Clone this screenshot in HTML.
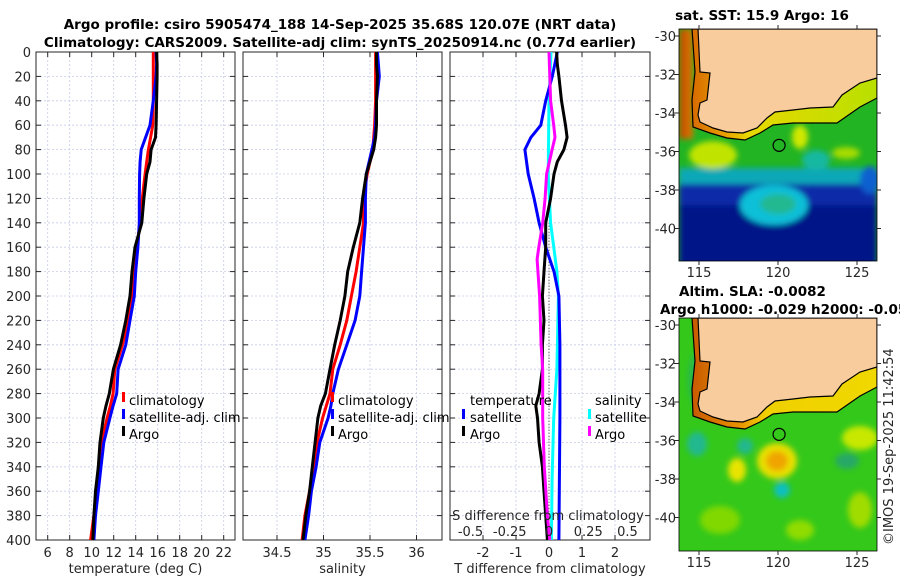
<!DOCTYPE html>
<html><head><meta charset="utf-8"><style>
html,body{margin:0;padding:0;background:#fff;}
svg{display:block;font-family:"DejaVu Sans","Liberation Sans",sans-serif;}
.tk{font-size:13px;fill:#262626;}
.tt{font-size:13.5px;font-weight:bold;fill:#000;}
.lg{font-size:13px;fill:#000;}
</style></head><body>
<svg id="fig" width="900" height="580" viewBox="0 0 900 580">
<defs>
<filter id="bl" x="-20%" y="-20%" width="140%" height="140%"><feGaussianBlur stdDeviation="3"/></filter>
<clipPath id="c1"><rect x="679" y="29" width="198" height="232"/></clipPath>
<clipPath id="c2"><rect x="679" y="318" width="198" height="233"/></clipPath>
<path id="land" d="M698,29 L700,72 L710,73 L707,100 L700,103 L698,115 L700,122 L713,128 L727,132 L743,133 L757,128 L767,118 L775,112 L793,110 L810,108 L833,107 L842,95 L860,83 L877,78 L877,29 Z"/>
<path id="shelf" d="M692,29 L695,72 L692,100 L693,127 L710,133 L727,138 L745,140 L760,133 L773,125 L793,123 L810,123 L837,123 L860,107 L877,98 L877,29 Z"/>
<linearGradient id="sg1" x1="0" x2="1" y1="0" y2="0"><stop offset="0" stop-color="#d86a00"/><stop offset="0.18" stop-color="#e8a000"/><stop offset="0.3" stop-color="#e8d800"/><stop offset="1" stop-color="#b8e000"/></linearGradient>
<linearGradient id="sg2" x1="0" x2="1" y1="0" y2="0"><stop offset="0" stop-color="#c85a00"/><stop offset="0.25" stop-color="#e89000"/><stop offset="0.4" stop-color="#f0d000"/><stop offset="1" stop-color="#f0d800"/></linearGradient>
<linearGradient id="wc1" x1="0" x2="1"><stop offset="0" stop-color="#b84a00"/><stop offset="1" stop-color="#e07800"/></linearGradient>
</defs>

<text class="tt" x="340" y="29" text-anchor="middle">Argo profile: csiro 5905474_188 14-Sep-2025 35.68S 120.07E (NRT data)</text>
<text class="tt" x="340" y="47" text-anchor="middle">Climatology: CARS2009. Satellite-adj clim: synTS_20250914.nc (0.77d earlier)</text>

<g id="p1"></g>
<g id="p2"></g>
<g id="p3"></g>

<g>
<rect x="122" y="392" width="3" height="10" fill="#f00"/><text class="lg" x="129" y="405">climatology</text>
<rect x="122" y="409" width="3" height="10" fill="#00f"/><text class="lg" x="129" y="422">satellite-adj. clim</text>
<rect x="122" y="426" width="3" height="10" fill="#000"/><text class="lg" x="129" y="439">Argo</text>
</g>
<g>
<rect x="331" y="392" width="3" height="10" fill="#f00"/><text class="lg" x="338" y="405">climatology</text>
<rect x="331" y="409" width="3" height="10" fill="#00f"/><text class="lg" x="338" y="422">satellite-adj. clim</text>
<rect x="331" y="426" width="3" height="10" fill="#000"/><text class="lg" x="338" y="439">Argo</text>
</g>
<g>
<text class="lg" x="470" y="405">temperature</text>
<rect x="462" y="409" width="3" height="10" fill="#00f"/><text class="lg" x="470" y="422">satellite</text>
<rect x="462" y="426" width="3" height="10" fill="#000"/><text class="lg" x="470" y="439">Argo</text>
<text class="lg" x="595" y="405">salinity</text>
<rect x="588" y="409" width="3" height="10" fill="#0ff"/><text class="lg" x="595" y="422">satellite</text>
<rect x="588" y="426" width="3" height="10" fill="#f0f"/><text class="lg" x="595" y="439">Argo</text>
</g>

<g>
<text class="tt" x="762" y="20" text-anchor="middle">sat. SST: 15.9 Argo: 16</text>
<g clip-path="url(#c1)">
<rect x="679" y="29" width="198" height="232" fill="#22b422"/>
<g filter="url(#bl)">
<rect x="679" y="178" width="198" height="90" fill="#0a2aa8"/>
<rect x="679" y="205" width="198" height="60" fill="#061888"/>
<rect x="679" y="168" width="198" height="16" fill="#10a8b8"/>
<ellipse cx="774" cy="205" rx="34" ry="20" fill="#10c0d8"/>
<ellipse cx="778" cy="204" rx="18" ry="10" fill="#20b890"/>
<ellipse cx="713" cy="155" rx="24" ry="14" fill="#c0e400"/>
<ellipse cx="800" cy="137" rx="8" ry="12" fill="#d0e800"/>
<ellipse cx="846" cy="153" rx="14" ry="6" fill="#a8dc00"/>
<ellipse cx="816" cy="160" rx="14" ry="10" fill="#18b8a0"/>
<ellipse cx="870" cy="180" rx="10" ry="14" fill="#1060d0"/>
<rect x="679" y="29" width="14" height="110" fill="url(#wc1)"/>
</g>
<use href="#shelf" fill="url(#sg1)"/>
<use href="#shelf" fill="none" stroke="#000" stroke-width="1.2"/>
<use href="#land" fill="#f9cc9e" stroke="#000" stroke-width="1.2"/>
</g>
<rect x="679" y="29" width="198" height="232" fill="none" stroke="#000" stroke-width="0.8"/>
<circle id="m1" r="6" fill="none" stroke="#000" stroke-width="1.2"/>
</g>

<g>
<text class="tt" x="679" y="296">Altim. SLA: -0.0082</text>
<text class="tt" x="660" y="314">Argo h1000: -0.029 h2000: -0.05</text>
<g clip-path="url(#c2)">
<rect x="679" y="318" width="198" height="233" fill="#34c81a"/>
<g filter="url(#bl)">
<ellipse cx="777" cy="461" rx="20" ry="18" fill="#e8e000"/>
<ellipse cx="777" cy="461" rx="11" ry="10" fill="#f0a400"/>
<ellipse cx="782" cy="490" rx="8" ry="8" fill="#10c0c0"/>
<ellipse cx="697" cy="444" rx="10" ry="12" fill="#20b890"/>
<ellipse cx="745" cy="446" rx="8" ry="8" fill="#20b890"/>
<ellipse cx="847" cy="461" rx="12" ry="8" fill="#28a868"/>
<ellipse cx="737" cy="470" rx="9" ry="12" fill="#e8e400"/>
<ellipse cx="860" cy="438" rx="18" ry="12" fill="#c8e800"/>
<ellipse cx="720" cy="520" rx="20" ry="14" fill="#80d800"/>
<ellipse cx="800" cy="530" rx="14" ry="10" fill="#90dc00"/>
<ellipse cx="860" cy="510" rx="12" ry="18" fill="#a0dc00"/>
<ellipse cx="700" cy="380" rx="12" ry="30" fill="#28b850"/>
</g>
<g transform="translate(0,289)">
<use href="#shelf" fill="url(#sg2)"/>
<use href="#shelf" fill="none" stroke="#000" stroke-width="1.2"/>
<use href="#land" fill="#f9cc9e" stroke="#000" stroke-width="1.2"/>
</g>
</g>
<rect x="679" y="318" width="198" height="233" fill="none" stroke="#000" stroke-width="0.8"/>
<circle id="m2" r="6" fill="none" stroke="#000" stroke-width="1.2"/>
</g>
<g id="maxes"></g>
<text class="tk" font-size="13" transform="translate(893,545) rotate(-90)">©IMOS 19-Sep-2025 11:42:54</text>
</svg>
<script>
const depths = [0,10,20,40,60,70,80,90,100,120,140,160,180,200,220,240,260,280,290,300,320,340,360,380,400];
const tempArgo = [15.9,15.95,15.95,15.9,15.85,15.8,15.4,15.3,15.0,14.75,14.55,13.94,13.66,13.48,13.1,12.63,11.97,11.6,11.3,11.05,10.75,10.6,10.35,10.2,10.1];
const tempClim = [15.6,15.6,15.6,15.6,15.55,15.35,15.15,15.0,14.85,14.6,14.4,14.1,13.8,13.7,13.33,12.8,12.1,11.95,11.7,11.4,10.9,10.65,10.45,10.2,9.9];
const tempSat = [15.85,15.9,15.85,15.6,15.3,14.9,14.5,14.4,14.35,14.33,14.33,14.2,14.0,13.87,13.48,13.1,12.4,12.27,11.95,11.65,11.1,10.85,10.6,10.35,10.2];
const salArgo = [35.57,35.57,35.58,35.57,35.57,35.56,35.54,35.5,35.46,35.42,35.39,35.32,35.26,35.23,35.18,35.12,35.07,35.02,34.97,34.94,34.91,34.88,34.85,34.81,34.78];
const salClim = [35.56,35.56,35.56,35.56,35.55,35.54,35.53,35.5,35.47,35.43,35.43,35.39,35.35,35.30,35.25,35.18,35.1,35.07,35.03,34.99,34.93,34.89,34.85,34.8,34.77];
const salSat = [35.58,35.59,35.6,35.57,35.56,35.55,35.52,35.49,35.46,35.45,35.45,35.43,35.41,35.39,35.34,35.25,35.16,35.1,35.08,35.05,34.96,34.92,34.87,34.84,34.8];
const dTArgoDepths = [0,10,20,40,60,70,80,90,100,120,140,160,180,200,220,240,260,280,290,300,320,340,360,380,400];
const dTArgo = [0.23,0.25,0.3,0.38,0.5,0.55,0.45,0.25,0.15,0.05,-0.1,-0.1,-0.15,-0.2,-0.15,-0.2,-0.2,-0.3,-0.4,-0.35,-0.3,-0.2,-0.15,-0.1,-0.05];
const dTSatDepths = [0,20,40,60,70,80,100,120,140,160,180,200,240,300,400];
const dTSat = [0.25,0.1,-0.1,-0.25,-0.55,-0.73,-0.63,-0.45,-0.3,-0.1,0.15,0.3,0.33,0.33,0.3];
const dSArgoDepths = [0,20,40,60,70,80,100,120,140,160,170,200,240,260,280,300,340,380,400];
const dSArgo = [0,0.005,0.01,0.03,0.038,0.02,-0.015,-0.025,-0.04,-0.065,-0.076,-0.06,-0.05,-0.04,-0.04,-0.04,-0.03,-0.01,0.005];
const dSSatDepths = [0,40,100,140,180,200,260,300,350,400];
const dSSat = [0.013,0.0,-0.005,0.01,0.05,0.06,0.05,0.03,0.02,0.015];
const depthTicks = [0,20,40,60,80,100,120,140,160,180,200,220,240,260,280,300,320,340,360,380,400];
const tempTicks = [6,8,10,12,14,16,18,20,22];
const salTicks = [34.5,35,35.5,36];
const dTTicks = [-2,-1,0,1,2];
const dSTicks = [-0.5,-0.25,0,0.25,0.5];
const dSTickLabels = ["-0.5","-0.25","0","0.25","0.5"];
const latTicks = [-30,-32,-34,-36,-38,-40];
const lonTicks = [115,120,125];
const argoLon = 120.07, argoLat = -35.68;

const NS = "http://www.w3.org/2000/svg";
const Y0 = 52, Y1 = 540;
const yD = d => Y0 + d * (Y1 - Y0) / 400;
function mk(tag, attrs, parent){const e=document.createElementNS(NS,tag);for(const k in attrs)e.setAttribute(k,attrs[k]);parent.appendChild(e);return e;}
const xT = v => 47.7 + (v - 6) * 11;
const xS = v => 277 + (v - 34.5) * 93;
const xdT = v => 549 + v * 33;
const xdS = v => 549 + v * 157;

function panel(g, x0, x1, vTicks, xf, labels, xlabel, showY){
  for (const d of depthTicks){
    const gl = mk('line',{x1:x0,x2:x1,y1:yD(d),y2:yD(d),stroke:'#c8cce8','stroke-width':0.8,'stroke-dasharray':'2,2'},g);
    
    
    mk('line',{x1:x0,x2:x0+5,y1:yD(d),y2:yD(d),stroke:'#262626'},g);
    mk('line',{x1:x1-5,x2:x1,y1:yD(d),y2:yD(d),stroke:'#262626'},g);
    if (showY){
      const t = mk('text',{x:x0-5,y:yD(d)+5,'text-anchor':'end',class:'tk'},g);
      t.textContent = d;
      
      
    }
  }
  vTicks.forEach((v,i)=>{
    const x = xf(v);
    const gl = mk('line',{x1:x,x2:x,y1:Y0,y2:Y1,stroke:'#c8cce8','stroke-width':0.8,'stroke-dasharray':'2,2'},g);
    
    
    mk('line',{x1:x,x2:x,y1:Y1,y2:Y1-5,stroke:'#262626'},g);
    mk('line',{x1:x,x2:x,y1:Y0,y2:Y0+5,stroke:'#262626'},g);
    const t = mk('text',{x:x,y:Y1+17,'text-anchor':'middle',class:'tk'},g);
    t.textContent = labels[i];
    
    
  });
  mk('rect',{x:x0,y:Y0,width:x1-x0,height:Y1-Y0,fill:'none',stroke:'#262626','stroke-width':1},g);
  const xl = mk('text',{x:(x0+x1)/2,y:Y1+33,'text-anchor':'middle',class:'tk','font-size':'14'},g);
  xl.textContent = xlabel;
  
  
}
function line(g, ds, vs, xf, color, name){
  const pts = ds.map((d,i)=>xf(vs[i]).toFixed(1)+','+yD(d).toFixed(1)).join(' ');
  const p = mk('polyline',{points:pts,fill:'none',stroke:color,'stroke-width':3,'stroke-linejoin':'round'},g);
  
  
}
const p1 = document.getElementById('p1'), p2 = document.getElementById('p2'), p3 = document.getElementById('p3');
panel(p1, 36, 235, tempTicks, xT, tempTicks.map(String), 'temperature (deg C)', true);
line(p1, depths, tempClim, xT, '#f00', 'temperature-climatology-line');
line(p1, depths, tempSat, xT, '#00f', 'temperature-satellite-line');
line(p1, depths, tempArgo, xT, '#000', 'temperature-argo-line');

panel(p2, 243, 442, salTicks, xS, salTicks.map(String), 'salinity', false);
line(p2, depths, salClim, xS, '#f00', 'salinity-climatology-line');
line(p2, depths, salSat, xS, '#00f', 'salinity-satellite-line');
line(p2, depths, salArgo, xS, '#000', 'salinity-argo-line');

panel(p3, 450, 650, dTTicks, xdT, dTTicks.map(String), 'T difference from climatology', false);
const zl = mk('line',{x1:xdT(0),x2:xdT(0),y1:yD(140),y2:Y1,stroke:'#333','stroke-width':1,'stroke-dasharray':'1,2'},p3);


line(p3, dSSatDepths, dSSat, xdS, '#0ff', 'salinity-satellite-diff-line');
line(p3, dTSatDepths, dTSat, xdT, '#00f', 'temperature-satellite-diff-line');
line(p3, dTArgoDepths, dTArgo, xdT, '#000', 'temperature-argo-diff-line');
line(p3, dSArgoDepths, dSArgo, xdS, '#f0f', 'salinity-argo-diff-line');
const st = mk('text',{x:548,y:520,'text-anchor':'middle',class:'tk','font-size':'14'},p3);
st.textContent = 'S difference from climatology';


dSTicks.forEach((v,i)=>{
  const t = mk('text',{x:xdS(v),y:536,'text-anchor':'middle',class:'tk'},p3);
  t.textContent = dSTickLabels[i];
  
  
});

const lonX = lon => 699 + (lon - 115) * 15.8;
const latY = (lat, off) => 36 + off + (-30 - lat) * 19.25;
const ma = document.getElementById('maxes');
[[0,29,261],[289,318,551]].forEach(([off,top,bot])=>{
  latTicks.forEach(lat=>{
    const y = latY(lat,off);
    mk('line',{x1:674,x2:679,y1:y,y2:y,stroke:'#262626'},ma);
    mk('line',{x1:877,x2:881,y1:y,y2:y,stroke:'#262626'},ma);
    const t = mk('text',{x:676,y:y+5,'text-anchor':'end',class:'tk'},ma);
    t.textContent = lat;
    
    
  });
  lonTicks.forEach(lon=>{
    const x = lonX(lon);
    mk('line',{x1:x,x2:x,y1:bot,y2:bot+4,stroke:'#262626'},ma);
    mk('line',{x1:x,x2:x,y1:top-4,y2:top,stroke:'#262626'},ma);
    const t = mk('text',{x:x,y:bot+16,'text-anchor':'middle',class:'tk','font-size':'14'},ma);
    t.textContent = lon;
    
    
  });
});
const m1 = document.getElementById('m1'), m2 = document.getElementById('m2');
m1.setAttribute('cx', lonX(argoLon)); m1.setAttribute('cy', latY(argoLat,0));
m2.setAttribute('cx', lonX(argoLon)); m2.setAttribute('cy', latY(argoLat,289));
</script>
</body></html>
